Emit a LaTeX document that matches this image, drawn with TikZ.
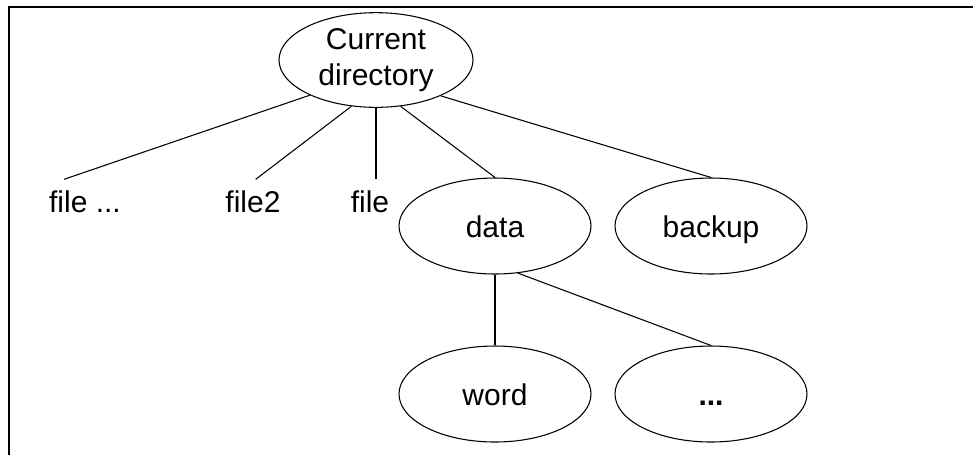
\documentclass[tikz,border=0pt]{standalone}
\usepackage{fontspec}
\setmainfont{Liberation Sans}
\usetikzlibrary{shapes.geometric}
\newcommand{\treefont}{\fontsize{22.5}{27}\selectfont}

\begin{document}
\begin{tikzpicture}[x=0.75pt,y=0.75pt,yscale=-1,xscale=1,
  dirnode/.style={draw,ellipse,line width=0.8pt,inner sep=0pt,font=\treefont},
  subdir/.style={dirnode,minimum width=144pt,minimum height=72pt,text height=16.5pt,text depth=0pt},
  filenode/.style={anchor=base,inner xsep=0.75pt,inner ysep=8pt,font=\treefont},
  link/.style={line width=0.8pt}]
\useasboundingbox (0,0) rectangle (973,455);

%Frame
\draw [line width=1.5pt] (9,455) -- (9,7) -- (973,7) ;

%Shape: Ellipse
\node [dirnode,minimum width=145.5pt,minimum height=71pt,align=center] (root) at (376,60) {Current\\directory};
%Shape: Ellipse
\node [subdir] (data) at (495,226) {data};
%Shape: Ellipse
\node [subdir] (backup) at (711,226) {backup};
%Shape: Ellipse
\node [subdir] (word) at (495,394) {word};
%Shape: Ellipse
\node [subdir] (more) at (711,394) {\textbf{...}};

% Text Node
\node [filenode] (fdots) at (85,212) {file ...};
% Text Node
\node [filenode] (ftwo) at (253,212) {file2};
% Text Node
\node [filenode] (fone) at (370,212) {file};

%Straight Lines
\draw [link] (root.-152) -- ([xshift=-15.75pt]fdots.north) ;
\draw [link] (root.-118) -- ([xshift=2pt]ftwo.north) ;
\draw [link] (root.south) -- (root.south |- fone.north) ;
\draw [link] (root.-62) -- (data.north) ;
\draw [link] (root.-29) -- (backup.north) ;
%Straight Lines
\draw [link] (data) -- (word) ;
\draw [link] (data.-64) -- (more.north) ;

\end{tikzpicture}
\end{document}
